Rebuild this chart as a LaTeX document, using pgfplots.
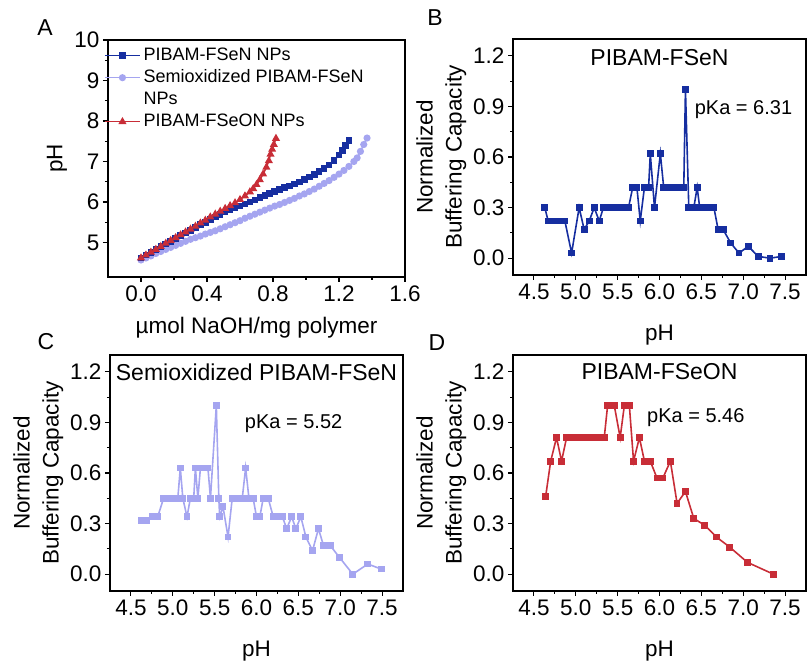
\documentclass[border=0pt]{standalone}
\usepackage{fontspec}
\setmainfont{Liberation Sans}
\usepackage{pgfplots}
\pgfplotsset{compat=1.18}

\definecolor{fsen}{RGB}{22,46,160}
\definecolor{semi}{RGB}{165,165,240}
\definecolor{fseon}{RGB}{200,45,55}

\tikzset{
  ttl/.style={font=\fontsize{23}{27}\selectfont, anchor=center},
  pka/.style={font=\fontsize{20}{24}\selectfont, anchor=base west, inner sep=0pt},
}
\pgfplotsset{
  panel/.style={
    scale only axis,
    axis line style={line width=1.3pt},
    every tick/.style={black, line width=1.1pt},
    tick align=outside, xtick pos=bottom, ytick pos=left,
    major tick length=5pt, minor tick length=3pt,
    minor x tick num=1, minor y tick num=1,
    tick label style={font=\fontsize{22.5}{26}\selectfont},
    /pgf/number format/assume math mode=true,
    label style={font=\fontsize{22.5}{29}\selectfont},
  },
  bcap/.style={
    panel, width=293pt, height=236pt,
    xmin=4.25, xmax=7.75, ymin=-0.1, ymax=1.3,
    xtick={4.5,5,5.5,6,6.5,7,7.5}, ytick={0,0.3,0.6,0.9,1.2},
    xticklabel style={/pgf/number format/.cd,fixed,fixed zerofill,precision=1},
    yticklabel style={/pgf/number format/.cd,fixed,fixed zerofill,precision=1},
    ylabel={Normalized\\Buffering Capacity},
    ylabel style={align=center, at={(rel axis cs:-0.245,0.5)}, anchor=center},
    xlabel={pH},
    xlabel style={at={(rel axis cs:0.5,-0.254)}, anchor=center},
  },
  bline/.style={line width=1.6pt, mark=square*, mark size=2.6pt, mark options={solid}},
}

\begin{document}
\begin{tikzpicture}[x=1pt,y=1pt]
\path[use as bounding box] (0pt,0pt) rectangle (807pt,661pt);

% ---------- A: titration curves ----------
\begin{axis}[panel, at={(108pt,384pt)}, anchor=south west,
  width=297pt, height=237pt,
  xmin=-0.2, xmax=1.6, ymin=4.15, ymax=10,
  xtick={0,0.4,0.8,1.2,1.6}, ytick={5,6,7,8,9,10},
  xticklabel style={/pgf/number format/.cd,fixed,fixed zerofill,precision=1},
  xlabel={\textmu mol NaOH/mg polymer},
  xlabel style={at={(rel axis cs:0.5,-0.212)}, anchor=center},
  ylabel={pH},
  ylabel style={at={(rel axis cs:-0.172,0.5)}, anchor=center},
  legend style={draw=none, fill=none, at={(rel axis cs:0,1)}, anchor=north west,
    xshift=-4pt, yshift=-6pt, inner sep=0pt, row sep=3pt, column sep=2pt,
    font=\fontsize{18}{21}\selectfont,
    nodes={inner sep=1pt, text height=13pt, text depth=4pt}},
  legend cell align=left,
  legend image code/.code={\draw[mark repeat=2,mark phase=2,#1] plot coordinates {(0pt,0pt) (17.5pt,0pt) (35pt,0pt)};},
]
\addlegendimage{fsen, line width=1.5pt, mark=square*, mark size=2.5pt}
\addlegendentry{PIBAM-FSeN NPs}
\addlegendimage{semi, line width=1.5pt, mark=*, mark size=2.8pt}
\addlegendentry{Semioxidized PIBAM-FSeN}
\addlegendimage{empty legend}
\addlegendentry{NPs}
\addlegendimage{fseon, line width=1.5pt, mark=triangle*, mark size=3.2pt}
\addlegendentry{PIBAM-FSeON NPs}

% semioxidized PIBAM-FSeN NPs
\addplot[forget plot, semi, line width=1.5pt, mark=*, mark size=2.8pt] coordinates {
(0,4.57) (0.03,4.62) (0.06,4.67) (0.09,4.73) (0.12,4.78) (0.15,4.83) (0.18,4.88)
(0.21,4.93) (0.24,4.98) (0.27,5.03) (0.30,5.08) (0.33,5.12) (0.36,5.16) (0.39,5.21)
(0.42,5.25) (0.45,5.29) (0.48,5.34) (0.51,5.39) (0.54,5.44) (0.57,5.49) (0.60,5.54)
(0.63,5.60) (0.66,5.65) (0.69,5.70) (0.72,5.75) (0.75,5.80) (0.78,5.85) (0.81,5.90)
(0.84,5.94) (0.87,5.99) (0.90,6.04) (0.93,6.09) (0.96,6.15) (0.99,6.20) (1.02,6.26)
(1.05,6.32) (1.08,6.39) (1.11,6.46) (1.14,6.53) (1.17,6.61) (1.20,6.69) (1.23,6.78)
(1.26,6.88) (1.29,7.00) (1.31,7.09) (1.33,7.25) (1.35,7.42) (1.37,7.58)};
% PIBAM-FSeN NPs
\addplot[forget plot, fsen, line width=1.5pt, mark=square*, mark size=2.5pt] coordinates {
(0,4.62) (0.03,4.69) (0.06,4.76) (0.09,4.83) (0.12,4.90) (0.15,4.96) (0.18,5.03)
(0.21,5.10) (0.24,5.17) (0.27,5.24) (0.30,5.30) (0.33,5.37) (0.36,5.44) (0.39,5.50)
(0.42,5.57) (0.45,5.63) (0.48,5.69) (0.51,5.75) (0.54,5.80) (0.57,5.85) (0.60,5.90)
(0.63,5.95) (0.66,6.00) (0.69,6.05) (0.72,6.11) (0.75,6.16) (0.78,6.21) (0.81,6.26)
(0.84,6.31) (0.87,6.36) (0.90,6.40) (0.93,6.45) (0.96,6.50) (0.99,6.56) (1.02,6.62)
(1.05,6.68) (1.08,6.75) (1.11,6.83) (1.14,6.92) (1.17,7.03) (1.20,7.16) (1.22,7.27)
(1.24,7.40) (1.26,7.52)};
% PIBAM-FSeON NPs
\addplot[forget plot, fseon, line width=1.5pt, mark=triangle*, mark size=3.2pt] coordinates {
(0,4.62) (0.03,4.69) (0.06,4.76) (0.09,4.83) (0.12,4.90) (0.15,4.98) (0.18,5.05)
(0.21,5.12) (0.24,5.19) (0.27,5.26) (0.30,5.33) (0.33,5.40) (0.36,5.48) (0.39,5.55)
(0.42,5.63) (0.45,5.70) (0.48,5.77) (0.51,5.84) (0.54,5.91) (0.57,5.98) (0.60,6.06)
(0.63,6.15) (0.66,6.25) (0.68,6.33) (0.70,6.43) (0.72,6.55) (0.74,6.69) (0.76,6.86)
(0.775,7.02) (0.785,7.18) (0.795,7.30) (0.805,7.42) (0.818,7.57)};
\end{axis}

% ---------- B: PIBAM-FSeN ----------
\begin{axis}[bcap, at={(513pt,386pt)}, anchor=south west]
\addplot[fsen, bline] coordinates {
(4.63,0.30) (4.67,0.22) (4.72,0.22) (4.77,0.22) (4.82,0.22) (4.87,0.22) (4.95,0.03)
(5.04,0.30) (5.10,0.17) (5.16,0.22) (5.22,0.30) (5.28,0.22) (5.33,0.30) (5.38,0.30)
(5.43,0.30) (5.48,0.30) (5.53,0.30) (5.58,0.30) (5.63,0.30) (5.68,0.42) (5.73,0.42)
(5.77,0.22) (5.82,0.42) (5.87,0.42) (5.89,0.62) (5.94,0.30) (6.01,0.62) (6.05,0.42)
(6.10,0.42) (6.15,0.42) (6.20,0.42) (6.25,0.42) (6.29,0.42) (6.31,1.00) (6.35,0.30)
(6.41,0.30) (6.45,0.42) (6.48,0.30) (6.54,0.30) (6.60,0.30) (6.65,0.30) (6.70,0.17)
(6.76,0.17) (6.85,0.09) (6.95,0.03) (7.06,0.07) (7.18,0.01) (7.32,0.00) (7.46,0.01)};
\node[ttl] at (rel axis cs:0.5,0.922) {PIBAM-FSeN};
\node[pka] at (axis cs:6.42,0.85) {pKa = 6.31};
\end{axis}

% ---------- C: semioxidized PIBAM-FSeN ----------
\begin{axis}[bcap, at={(110pt,70pt)}, anchor=south west]
\addplot[semi, bline] coordinates {
(4.62,0.32) (4.69,0.32) (4.76,0.34) (4.82,0.34) (4.89,0.45) (4.95,0.45) (5.02,0.45)
(5.06,0.45) (5.09,0.63) (5.12,0.45) (5.17,0.34) (5.21,0.45) (5.25,0.45) (5.27,0.63)
(5.30,0.45) (5.33,0.63) (5.37,0.63) (5.42,0.63) (5.45,0.45) (5.52,1.00) (5.55,0.45)
(5.56,0.34) (5.60,0.40) (5.66,0.22) (5.71,0.45) (5.77,0.45) (5.83,0.45) (5.87,0.63)
(5.91,0.45) (5.96,0.45) (6.00,0.34) (6.04,0.34) (6.08,0.45) (6.14,0.45) (6.20,0.34)
(6.26,0.34) (6.31,0.34) (6.36,0.27) (6.42,0.34) (6.47,0.27) (6.53,0.34) (6.59,0.22)
(6.67,0.14) (6.74,0.27) (6.80,0.17) (6.88,0.17) (6.99,0.10) (7.15,0.00) (7.33,0.06)
(7.49,0.03)};
\node[ttl] at (rel axis cs:0.5,0.928) {Semioxidized PIBAM-FSeN};
\node[pka] at (axis cs:5.86,0.862) {pKa = 5.52};
\end{axis}

% ---------- D: PIBAM-FSeON ----------
\begin{axis}[bcap, at={(513pt,70pt)}, anchor=south west]
\addplot[fseon, bline] coordinates {
(4.64,0.46) (4.70,0.67) (4.77,0.81) (4.83,0.67) (4.89,0.81) (4.95,0.81) (5.00,0.81)
(5.06,0.81) (5.12,0.81) (5.17,0.81) (5.23,0.81) (5.28,0.81) (5.34,0.81) (5.38,1.00)
(5.42,1.00) (5.46,1.00) (5.53,0.81) (5.58,1.00) (5.64,1.00) (5.69,0.67) (5.76,0.81)
(5.82,0.67) (5.89,0.67) (5.97,0.57) (6.04,0.57) (6.13,0.67) (6.21,0.42) (6.31,0.49)
(6.41,0.33) (6.54,0.29) (6.68,0.22) (6.84,0.16) (7.05,0.07) (7.36,0.00)};
\node[ttl] at (rel axis cs:0.5,0.928) {PIBAM-FSeON};
\node[pka] at (axis cs:5.85,0.897) {pKa = 5.46};
\end{axis}

% panel letters
\node[font=\fontsize{23}{27}\selectfont] at (45pt,633pt) {A};
\node[font=\fontsize{23}{27}\selectfont] at (435pt,643pt) {B};
\node[font=\fontsize{23}{27}\selectfont] at (46pt,319pt) {C};
\node[font=\fontsize{23}{27}\selectfont] at (437pt,318pt) {D};
\end{tikzpicture}
\end{document}
